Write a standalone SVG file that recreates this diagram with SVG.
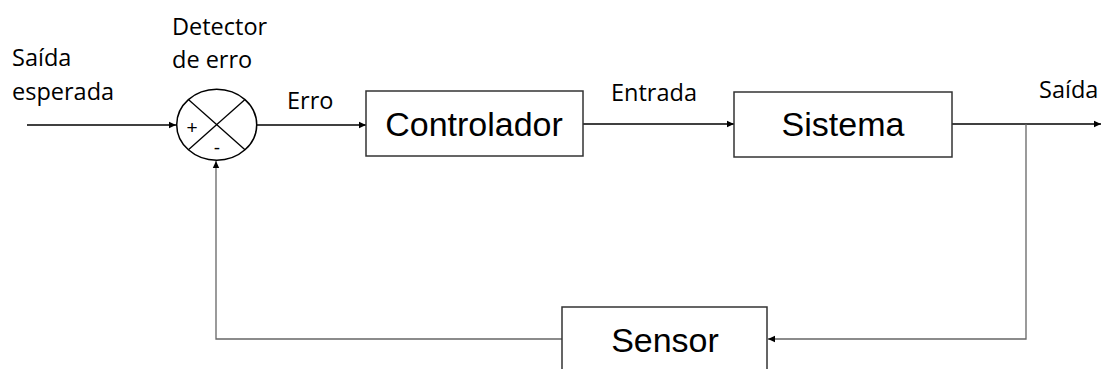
<svg xmlns="http://www.w3.org/2000/svg" width="1104" height="369" viewBox="0 0 1104 369">
<defs>
<style>
.lbl{font-family:"Open Sans","Noto Sans",sans-serif;font-size:23.5px;fill:#000}
.blk{font-family:"Liberation Sans",Arial,sans-serif;font-size:34px;fill:#000;text-anchor:middle}
.sgn{font-family:"Liberation Sans",Arial,sans-serif;font-size:19px;fill:#000;text-anchor:middle}
.box{fill:#fff;stroke:#333;stroke-width:1.5}
.ln{fill:none;stroke:#000;stroke-width:1.3}
.fb{fill:none;stroke:#666;stroke-width:1.3}
</style>
<marker id="ah" markerWidth="8" markerHeight="8" refX="7" refY="4" orient="auto" markerUnits="userSpaceOnUse">
<path d="M0,0.8 L7,4 L0,7.2 Z" fill="#000"/>
</marker>
</defs>
<rect width="1104" height="369" fill="#fff"/>
<g id="connectors">
<line class="ln" x1="27" y1="125" x2="176" y2="125" marker-end="url(#ah)"/>
<line class="ln" x1="257" y1="125" x2="366" y2="125" marker-end="url(#ah)"/>
<line class="ln" x1="583" y1="124" x2="734" y2="124" marker-end="url(#ah)"/>
<line class="ln" x1="952" y1="124" x2="1101" y2="124" marker-end="url(#ah)"/>
<polyline class="fb" points="1026,124 1026,339 768,339" marker-end="url(#ah)"/>
<polyline class="fb" points="562,339 216,339 216,161" marker-end="url(#ah)"/>
</g>
<g id="labels">
<text class="lbl" x="12" y="66">Saída</text>
<text class="lbl" x="12" y="100">esperada</text>
<text class="lbl" x="172" y="35">Detector</text>
<text class="lbl" x="172" y="68">de erro</text>
<text class="lbl" x="287" y="109">Erro</text>
<text class="lbl" x="611" y="101">Entrada</text>
<text class="lbl" x="1039" y="98">Saída</text>
</g>
<g id="detector">
<ellipse cx="216.7" cy="124.7" rx="40" ry="35.5" fill="#fff" stroke="#000" stroke-width="1.5"/>
<line class="ln" x1="188.4" y1="99.6" x2="245" y2="149.8"/>
<line class="ln" x1="245" y1="99.6" x2="188.4" y2="149.8"/>
<text class="sgn" x="192" y="134">+</text>
<text class="sgn" x="217" y="154">-</text>
</g>
<g id="controlador">
<rect class="box" x="366" y="91" width="217" height="65"/>
<text class="blk" x="474" y="136">Controlador</text>
</g>
<g id="sistema">
<rect class="box" x="734" y="92" width="218" height="65"/>
<text class="blk" x="843" y="136">Sistema</text>
</g>
<g id="sensor">
<rect class="box" x="562" y="307" width="205" height="80"/>
<text class="blk" x="665" y="352">Sensor</text>
</g>
</svg>
